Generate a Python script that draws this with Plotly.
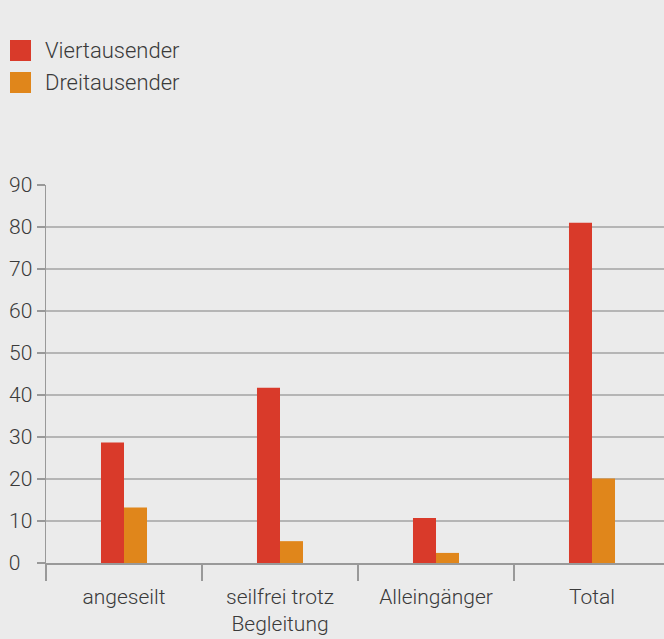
import plotly.graph_objects as go

categories = ["angeseilt", "seilfrei trotz<br>Begleitung", "Alleingänger", "Total"]
series_names = ["Viertausender", "Dreitausender"]
viertausender = [28.7, 41.7, 10.7, 81.0]
dreitausender = [13.2, 5.2, 2.4, 20.1]
y_tick_values = [0, 10, 20, 30, 40, 50, 60, 70, 80, 90]
y_tick_labels = ["0\u2007", "10", "20", "30", "40", "50", "60", "70", "80", "90"]
series_colors = ["#d93a2a", "#e0861b"]

W, H = 664, 639
L, R, T, B = 46, 0, 185, 76
pw, ph = W - L - R, H - T - B

fig = go.Figure()
for name, vals, col in zip(series_names, [viertausender, dreitausender], series_colors):
    fig.add_trace(go.Bar(x=categories, y=vals, name=name, marker=dict(color=col, line=dict(width=0)),
                         showlegend=False, hoverinfo="skip"))

font = "Roboto"
txt = "#3a3a3a"
# custom legend (large square swatches)
for i, (name, col) in enumerate(zip(series_names, series_colors)):
    top = 40 + i * 32
    fig.add_shape(type="rect", xref="paper", yref="paper",
                  x0=(10 - L) / pw, x1=(31 - L) / pw,
                  y0=(H - B - top) / ph, y1=(H - B - top - 21) / ph,
                  fillcolor=col, line=dict(width=0))
    fig.add_annotation(text=name, xref="paper", yref="paper", x=(43 - L) / pw,
                       y=(H - B - top - 10.5) / ph, xanchor="left", yanchor="middle",
                       showarrow=False, font=dict(family=font, size=22, color=txt, weight=300))

fig.update_layout(
    width=W, height=H,
    margin=dict(l=L, r=R, t=T, b=B, pad=0),
    paper_bgcolor="#ebebeb", plot_bgcolor="#ebebeb",
    barmode="group", bargap=0.705, bargroupgap=0,
    font=dict(family=font, color=txt, weight=300),
    xaxis=dict(range=[-0.5, -0.5 + pw / 156], showline=True, linecolor="#999999", linewidth=1.5,
               ticks="outside", tickson="boundaries", ticklen=16, tickcolor="#999999", tickwidth=1.5,
               showgrid=False, tickfont=dict(family=font, size=21, color=txt, weight=300),
               automargin=False, ticklabelstandoff=14),
    yaxis=dict(range=[0, 90], tickvals=y_tick_values, ticktext=y_tick_labels,
               showline=True, linecolor="#999999", linewidth=1.5, ticks="outside", ticklen=8,
               tickcolor="#999999", tickwidth=1.5, gridcolor="#b5b5b5", gridwidth=1.2,
               zeroline=False, tickfont=dict(family=font, size=21, color=txt, weight=300),
               automargin=False, ticklabelstandoff=0),
)

fig.write_html("out.html", post_script="document.body.style.margin='0';",
               config={"displayModeBar": False, "staticPlot": True})
